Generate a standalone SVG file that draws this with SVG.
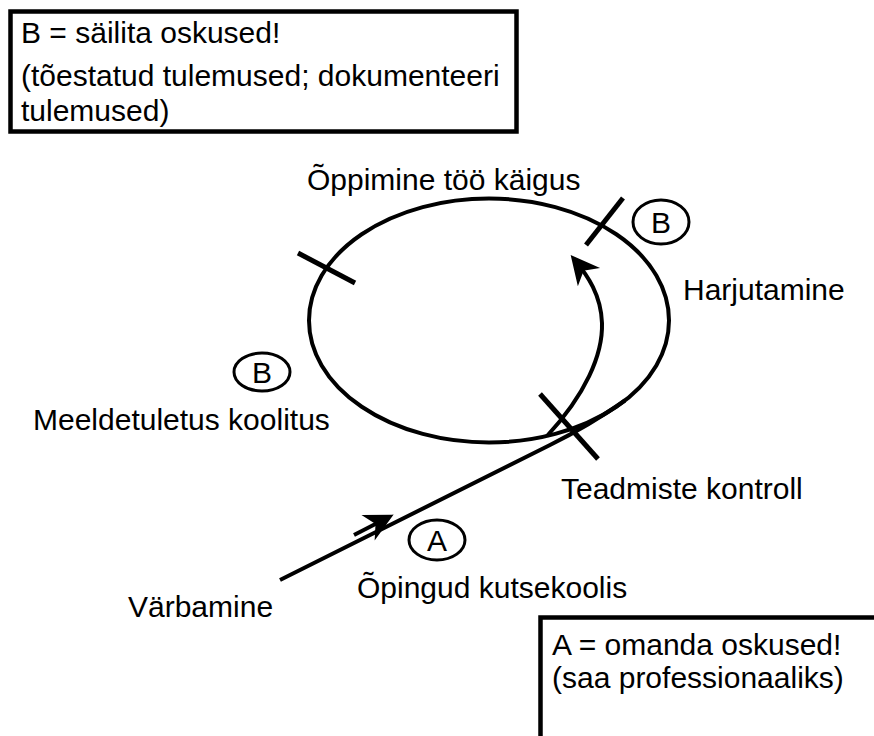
<svg xmlns="http://www.w3.org/2000/svg" width="874" height="736" viewBox="0 0 874 736">
  <style>
    text { font-family: "Liberation Sans", Arial, Helvetica, sans-serif; font-size: 30px; fill: #000; }
    .box { fill: #fff; stroke: #000; stroke-width: 4.5; }
    .loop { fill: none; stroke: #000; stroke-width: 4; }
    .line { fill: none; stroke: #000; stroke-width: 4; }
    .tick { fill: none; stroke: #000; stroke-width: 5; }
    .badge { fill: #fff; stroke: #000; stroke-width: 3; }
    .mid { text-anchor: middle; }
  </style>
  <defs>
    <marker id="arrow" markerUnits="userSpaceOnUse" viewBox="-26 -14 32 28" refX="0" refY="0" markerWidth="32" markerHeight="28" orient="auto" overflow="visible">
      <path d="M3,0 L-21,-12 L-14,0 L-21,12 Z" fill="#000" stroke="#000" stroke-width="2" stroke-linejoin="miter"/>
    </marker>
  </defs>

  <rect width="874" height="736" fill="#fff"/>

  <g id="box-B">
    <rect class="box" x="10.5" y="11.5" width="506" height="120"/>
    <text x="21" y="43">B = säilita oskused!</text>
    <text x="21" y="86">(tõestatud tulemused; dokumenteeri</text>
    <text x="21" y="121">tulemused)</text>
  </g>

  <g id="box-A">
    <rect class="box" x="540.5" y="617.5" width="345" height="130"/>
    <text x="552" y="655">A = omanda oskused!</text>
    <text x="552" y="688">(saa professionaaliks)</text>
  </g>

  <g id="cycle">
    <ellipse class="loop" cx="489" cy="320.5" rx="180" ry="122"/>
  </g>

  <g id="connectors">
    <path class="line" d="M 280 580 L 550 445 C 575 432.5, 600 418, 625 400.5"/>
    <path class="line" d="M 547 436 C 585 395, 603 355, 602 323 C 601 295, 588 276, 574 259" marker-end="url(#arrow)"/>
    <path class="line" d="M 354 535 L 389 517" stroke-width="5" marker-end="url(#arrow)"/>
  </g>

  <g id="ticks">
    <line class="tick" x1="298" y1="253" x2="355" y2="283"/>
    <line class="tick" x1="586" y1="245" x2="623" y2="198"/>
    <line class="tick" x1="540" y1="394" x2="598" y2="459"/>
  </g>

  <g id="node-opetus-too-kaigus">
    <text x="307" y="190">Õppimine töö käigus</text>
  </g>
  <g id="node-harjutamine">
    <text x="683" y="300">Harjutamine</text>
  </g>
  <g id="node-meeldetuletus">
    <text x="33" y="430">Meeldetuletus koolitus</text>
  </g>
  <g id="node-teadmiste-kontroll">
    <text x="561" y="499">Teadmiste kontroll</text>
  </g>
  <g id="node-opingud">
    <text x="357" y="598">Õpingud kutsekoolis</text>
  </g>
  <g id="node-varbamine">
    <text x="128" y="617">Värbamine</text>
  </g>

  <g id="badge-B-top">
    <ellipse class="badge" cx="661" cy="222" rx="28" ry="22"/>
    <text class="mid" x="661" y="233">B</text>
  </g>
  <g id="badge-B-left">
    <ellipse class="badge" cx="262" cy="372" rx="28" ry="19"/>
    <text class="mid" x="262" y="383">B</text>
  </g>
  <g id="badge-A">
    <ellipse class="badge" cx="437" cy="540" rx="28" ry="20"/>
    <text class="mid" x="437" y="551">A</text>
  </g>
</svg>
